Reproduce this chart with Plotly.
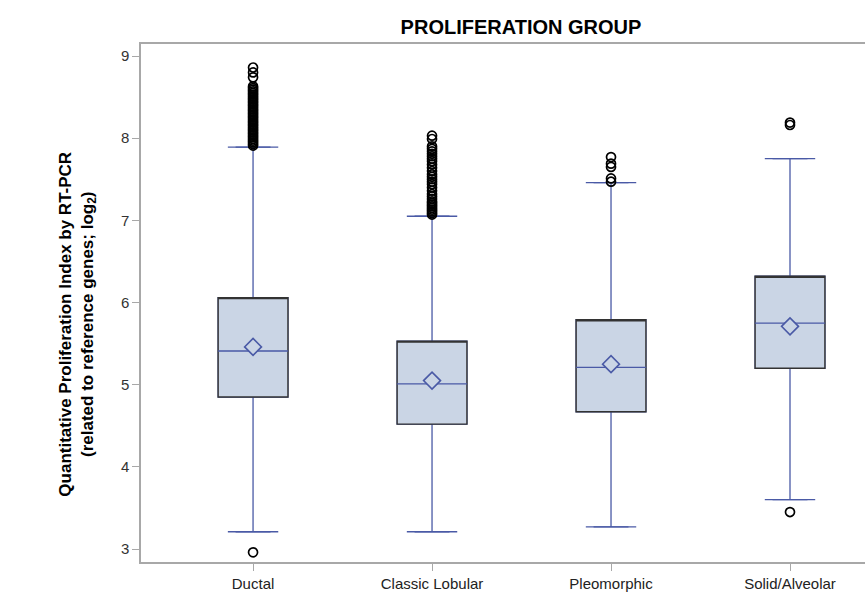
import plotly.graph_objects as go

categories = ["Ductal", "Classic Lobular", "Pleomorphic", "Solid/Alveolar"]
q1 = [4.85, 4.52, 4.67, 5.20]
median = [5.41, 5.01, 5.21, 5.75]
q3 = [6.06, 5.53, 5.79, 6.32]
mean = [5.46, 5.05, 5.25, 5.71]
lower_whisker = [3.21, 3.21, 3.27, 3.60]
upper_whisker = [7.89, 7.05, 7.46, 7.75]

outliers = {
    "Ductal": [2.96, 7.91, 7.93, 7.95, 7.97, 7.99, 8.01, 8.03, 8.05, 8.07, 8.09,
               8.11, 8.13, 8.15, 8.17, 8.19, 8.21, 8.23, 8.25, 8.27, 8.29, 8.31,
               8.33, 8.35, 8.37, 8.39, 8.41, 8.43, 8.45, 8.47, 8.49, 8.51, 8.53,
               8.55, 8.57, 8.59, 8.61, 8.63, 8.74, 8.80, 8.86],
    "Classic Lobular": [7.07, 7.09, 7.11, 7.13, 7.15, 7.17, 7.19, 7.21, 7.23,
                        7.26, 7.29, 7.32, 7.36, 7.40, 7.44, 7.47, 7.50, 7.53,
                        7.56, 7.60, 7.64, 7.68, 7.72, 7.75, 7.78, 7.81, 7.84,
                        7.87, 7.90, 7.99, 8.03],
    "Pleomorphic": [7.47, 7.51, 7.65, 7.69, 7.77],
    "Solid/Alveolar": [3.45, 8.16, 8.19],
}

FILL = "#CAD5E5"
BLUE = "#4A5AA6"
FONT = "Liberation Sans, Arial, sans-serif"
BW = 0.39

fig = go.Figure()

# whiskers (blue)
fig.add_trace(go.Box(
    x=categories, q1=q1, median=q3, q3=q3,
    lowerfence=lower_whisker, upperfence=upper_whisker,
    width=BW, fillcolor=FILL, line=dict(color=BLUE, width=1.3),
    boxpoints=False, showlegend=False, hoverinfo="skip"))
# box outline (dark)
fig.add_trace(go.Box(
    x=categories, q1=q1, median=q3, q3=q3,
    lowerfence=q1, upperfence=q3,
    width=BW, fillcolor=FILL, line=dict(color="#333333", width=1.4),
    boxpoints=False, showlegend=False, hoverinfo="skip"))
# median (blue)
fig.add_trace(go.Box(
    x=categories, q1=median, median=median, q3=median,
    lowerfence=median, upperfence=median,
    width=BW, fillcolor="rgba(0,0,0,0)", line=dict(color=BLUE, width=1.3),
    boxpoints=False, showlegend=False, hoverinfo="skip"))

# whisker caps
fig.add_trace(go.Scatter(
    x=categories + categories, y=lower_whisker + upper_whisker,
    mode="markers",
    marker=dict(symbol="line-ew", size=36, line=dict(color=BLUE, width=1.3)),
    showlegend=False, hoverinfo="skip"))

# mean diamonds
fig.add_trace(go.Scatter(
    x=categories, y=mean, mode="markers",
    marker=dict(symbol="diamond", size=13, color=FILL,
                line=dict(color=BLUE, width=1.6)),
    showlegend=False))

# outliers
ox, oy = [], []
for c in categories:
    for v in outliers[c]:
        ox.append(c)
        oy.append(v)
fig.add_trace(go.Scatter(
    x=ox, y=oy, mode="markers",
    marker=dict(symbol="circle-open", size=9, color="black",
                line=dict(width=1.7)),
    showlegend=False))

fig.update_layout(
    width=865, height=593,
    margin=dict(l=141, r=0, t=44, b=31),
    paper_bgcolor="white", plot_bgcolor="white",
    font=dict(family=FONT, size=15, color="#222222"),
    title=dict(text="<b>PROLIFERATION GROUP</b>", x=0.6023, xanchor="center",
               y=1 - 27 / 593, yanchor="middle",
               font=dict(family=FONT, size=20, color="black")),
    xaxis=dict(type="category", categoryorder="array", categoryarray=categories,
               range=[-0.626, 3.419], showline=True, linecolor="#A8A8A8",
               linewidth=1.5, mirror=True, ticks="outside", ticklen=7,
               tickcolor="#A8A8A8", showgrid=False, zeroline=False,
               tickfont=dict(size=15, color="#222222")),
    yaxis=dict(range=[2.842, 9.146], tickvals=[3, 4, 5, 6, 7, 8, 9],
               showline=True, linecolor="#A8A8A8", linewidth=1.5, mirror=False,
               ticks="outside", ticklen=7, tickcolor="#A8A8A8",
               showgrid=False, zeroline=False,
               tickfont=dict(size=15, color="#333333")),
    annotations=[dict(
        text="<b>Quantitative Proliferation Index by RT-PCR<br>"
             "(related to reference genes; log<sub>2</sub>)</b>",
        xref="paper", yref="paper", x=-0.0875, y=0.4595,
        xanchor="center", yanchor="middle", textangle=-90, showarrow=False,
        font=dict(family=FONT, size=17, color="black"))],
)

fig.write_html("out.html", config={"displayModeBar": False},
               post_script="document.body.style.margin='0';")
